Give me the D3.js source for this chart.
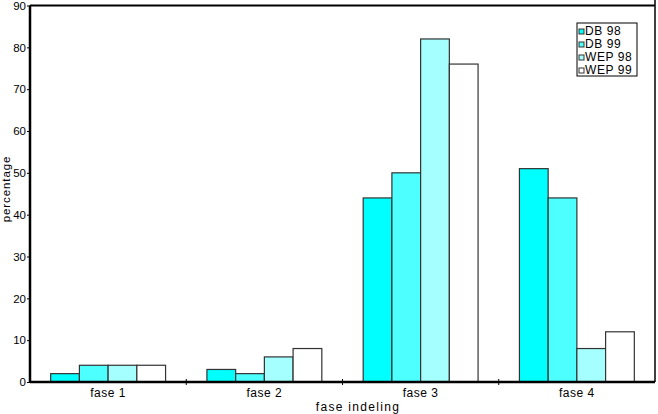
<!DOCTYPE html>
<html>
<head>
<meta charset="utf-8">
<style>
  body { margin: 0; background: #fff; }
  svg text { font-family: "Liberation Sans", Arial, sans-serif; fill: #000; }
</style>
</head>
<body>
<svg width="658" height="414"></svg>
<script src="https://d3js.org/d3.v7.min.js"></script>
<script>
// data
var categories = ["fase 1", "fase 2", "fase 3", "fase 4"];
var seriesNames = ["DB 98", "DB 99", "WEP 98", "WEP 99"];
var db98  = [2, 3, 44, 51];
var db99  = [4, 2, 50, 44];
var wep98 = [4, 6, 82, 8];
var wep99 = [4, 8, 76, 12];
var yTicks = [0, 10, 20, 30, 40, 50, 60, 70, 80, 90];

var colors = ["#00ffff", "#4dffff", "#a6ffff", "#ffffff"];
var seriesValues = [db98, db99, wep98, wep99];

var svg = d3.select("svg");
var plotLeft = 30, plotRight = 655, plotTop = 5.5, plotBottom = 382;

var x = d3.scaleBand().domain(categories).range([plotLeft, plotRight]);
var x1 = d3.scaleBand().domain(seriesNames).range([0, x.bandwidth()])
    .paddingOuter(0.36 * 4 / 2).paddingInner(0);
var y = d3.scaleLinear().domain([0, 90]).range([plotBottom, plotTop]);

// bars
var groups = svg.append("g").selectAll("g")
  .data(categories)
  .enter().append("g")
  .attr("transform", function(d) { return "translate(" + x(d) + ",0)"; });

groups.selectAll("rect")
  .data(function(d, i) {
    return seriesNames.map(function(s, j) { return { s: s, v: seriesValues[j][i], c: colors[j] }; });
  })
  .enter().append("rect")
  .attr("x", function(d) { return x1(d.s); })
  .attr("y", function(d) { return y(d.v); })
  .attr("width", x1.bandwidth())
  .attr("height", function(d) { return plotBottom - y(d.v); })
  .attr("fill", function(d) { return d.c; })
  .attr("stroke", "#333")
  .attr("stroke-width", 1.2);

// frame lines
svg.append("line").attr("x1", plotLeft).attr("x2", plotRight).attr("y1", plotTop).attr("y2", plotTop)
  .attr("stroke", "#000").attr("stroke-width", 2);
svg.append("line").attr("x1", plotRight).attr("x2", plotRight).attr("y1", 0).attr("y2", plotBottom)
  .attr("stroke", "#000").attr("stroke-width", 1.5);

// y axis
var yAxis = svg.append("g")
  .attr("transform", "translate(" + plotLeft + ",0)")
  .call(d3.axisLeft(y).tickValues(yTicks).tickSize(3).tickPadding(1));
yAxis.select(".domain").attr("stroke-width", 2.5).attr("d", "M0," + plotBottom + "V" + plotTop);
yAxis.selectAll("text").style("font-size", "11.5px").style("font-family", "Liberation Sans, Arial, sans-serif");

// x axis
var xAxis = svg.append("g")
  .attr("transform", "translate(0," + plotBottom + ")")
  .call(d3.axisBottom(x).tickSize(0).tickPadding(6));
xAxis.select(".domain").attr("stroke-width", 2.5).attr("d", "M" + plotLeft + ",0H" + plotRight);
xAxis.selectAll("text").style("font-size", "12px").style("letter-spacing", "0.5px")
  .style("font-family", "Liberation Sans, Arial, sans-serif");

// boundary ticks between categories
svg.append("g").selectAll("line")
  .data(categories.slice(1))
  .enter().append("line")
  .attr("x1", function(d) { return x(d); })
  .attr("x2", function(d) { return x(d); })
  .attr("y1", plotBottom - 3).attr("y2", plotBottom + 3)
  .attr("stroke", "#000");

// axis titles
svg.append("text")
  .attr("x", 358).attr("y", 411)
  .attr("text-anchor", "middle")
  .style("font-size", "12px").style("letter-spacing", "1.3px")
  .text("fase indeling");

svg.append("text")
  .attr("transform", "translate(10,189) rotate(-90)")
  .attr("text-anchor", "middle")
  .style("font-size", "11.5px").style("letter-spacing", "0.9px")
  .text("percentage");

// legend
var legend = svg.append("g").attr("transform", "translate(577,23)");
legend.append("rect")
  .attr("width", 60).attr("height", 53)
  .attr("fill", "#fff").attr("stroke", "#000");

var item = legend.selectAll(".item")
  .data(seriesNames)
  .enter().append("g")
  .attr("class", "item")
  .attr("transform", function(d, i) { return "translate(0," + (i * 13) + ")"; });

item.append("rect")
  .attr("x", 2).attr("y", 6)
  .attr("width", 5).attr("height", 5)
  .attr("fill", function(d, i) { return colors[i]; })
  .attr("stroke", "#333");

item.append("text")
  .attr("x", 8).attr("y", 12)
  .style("font-size", "12px").style("letter-spacing", "0.6px")
  .text(function(d) { return d; });
</script>
</body>
</html>
